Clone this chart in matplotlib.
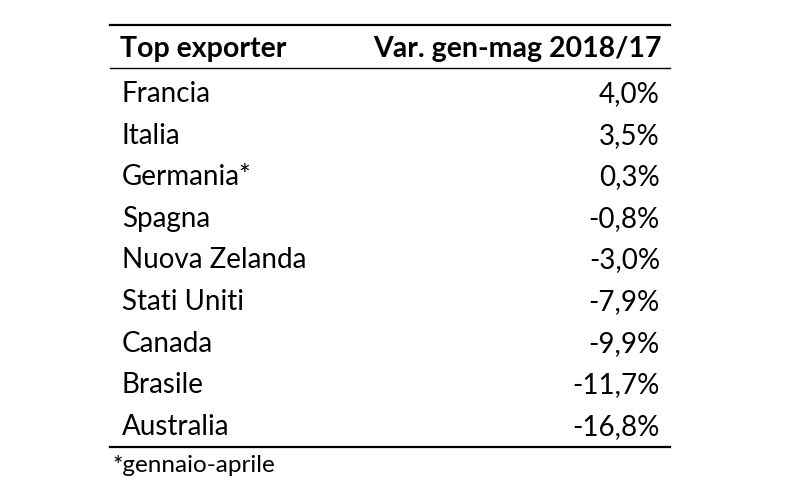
import matplotlib
matplotlib.use("Agg")
import matplotlib.pyplot as plt

header = ["Top exporter", "Var. gen-mag 2018/17"]
countries = ["Francia", "Italia", "Germania*", "Spagna", "Nuova Zelanda",
             "Stati Uniti", "Canada", "Brasile", "Australia"]
changes = ["4,0%", "3,5%", "0,3%", "-0,8%", "-3,0%", "-7,9%", "-9,9%",
           "-11,7%", "-16,8%"]
note = "*gennaio-aprile"

plt.rcParams["font.family"] = ["Lato", "DejaVu Sans"]

fig = plt.figure(figsize=(8.1, 5.0), dpi=100)
ax = fig.add_axes([0, 0, 1, 1])
ax.set_xlim(0, 810)
ax.set_ylim(500, 0)
ax.axis("off")

x_left, x_right = 110, 670
fs = 20

# rules
ax.plot([x_left, x_right], [25, 25], color="black", lw=1.6)
ax.plot([x_left, x_right], [68, 68], color="black", lw=1.0)
ax.plot([x_left, x_right], [447, 447], color="black", lw=1.6)

ax.text(120, 49, header[0], fontsize=20.5, fontweight="bold", ha="left", va="center")
ax.text(662, 49, header[1], fontsize=20.5, fontweight="bold", ha="right", va="center")

y0, dy = 94, 41.6
for i, (c, v) in enumerate(zip(countries, changes)):
    y = y0 + i * dy
    ax.text(122, y, c, fontsize=fs, ha="left", va="center")
    ax.text(660, y, v, fontsize=fs, ha="right", va="center")

ax.text(112, 466, note, fontsize=17.5, ha="left", va="center")

fig.savefig("out.png", dpi=100)
